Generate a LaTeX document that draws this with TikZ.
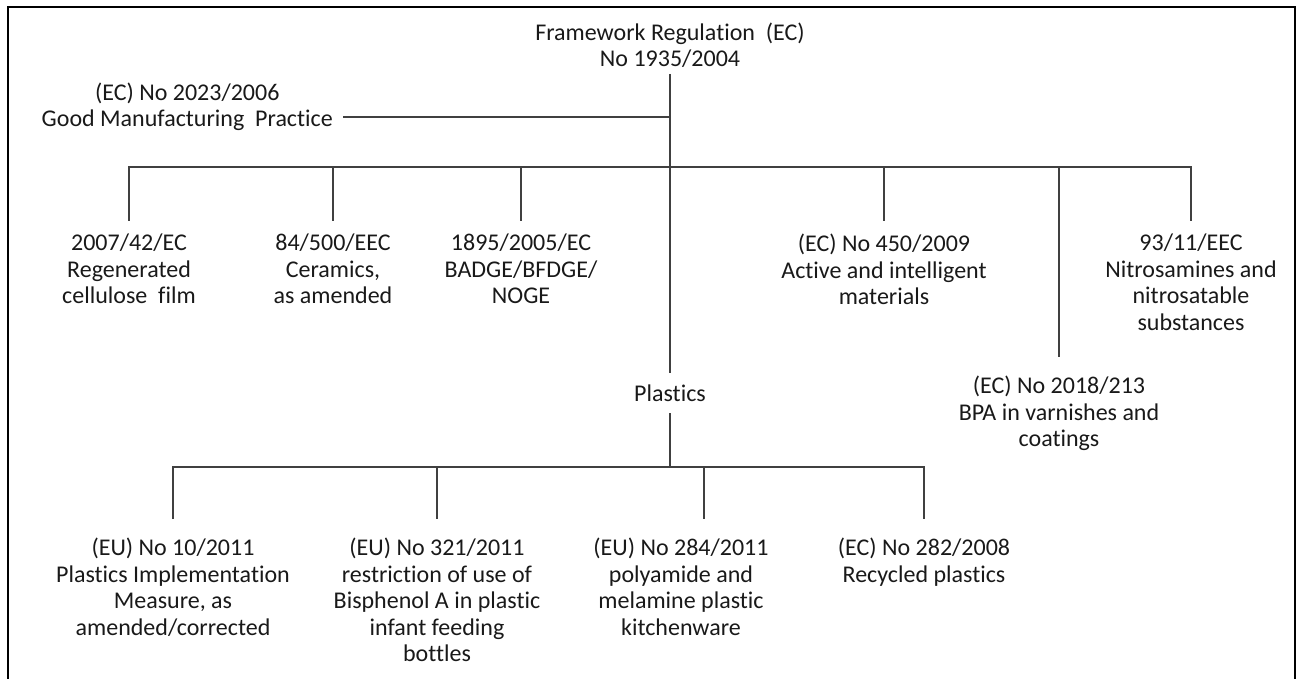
\documentclass[tikz,border=0pt]{standalone}
\usepackage{fontspec}
\setmainfont{Carlito}[Ligatures=NoCommon]
\usepackage{tikz}
\usetikzlibrary{positioning}
\newcommand{\regfont}{\fontsize{24}{26.5}\selectfont}
\tikzstyle{reg} = [align=center, font=\regfont, text=black!90, inner xsep=2pt, inner ysep=13pt]
\tikzstyle{lowreg} = [reg, inner ysep=19pt]
\tikzstyle{branch} = [draw=black!75, line width=1.7pt]
\tikzstyle{frame} = [draw=black, line width=2.6pt]

\begin{document}
\begin{tikzpicture}[x=1pt, y=-1pt]
\useasboundingbox (0,0) rectangle (1302,679);
\draw[frame] (8,679) -- (8,7) -- (1295,7) -- (1295,679);

\node[reg, anchor=south, inner ysep=6pt] (root) at (670,74) {Framework Regulation\ \ (EC)\\No 1935/2004};
\node[reg, anchor=east, inner xsep=10pt, inner ysep=4pt] (gmp) at (343,107) {(EC) No 2023/2006\\Good Manufacturing\ \ Practice};
\coordinate (bar1) at (670,167);

\node[reg, anchor=north] (cellulose) at (129,221) {2007/42/EC\\Regenerated\\cellulose\ \ film};
\node[reg, anchor=north] (ceramics) at (333,221) {84/500/EEC\\Ceramics,\\as amended};
\node[reg, anchor=north] (badge) at (521,221) {1895/2005/EC\\BADGE/BFDGE/\\NOGE};
\node[reg, anchor=north] (active) at (884,221) {(EC) No 450/2009\\Active and intelligent\\materials};
\node[lowreg, anchor=north] (bpa) at (1059,357) {(EC) No 2018/213\\BPA in varnishes and\\coatings};
\node[reg, anchor=north] (nitro) at (1191,221) {93/11/EEC\\Nitrosamines and\\nitrosatable\\substances};

\node[reg, inner ysep=11.5pt] (plastics) at (670,393) {Plastics};
\coordinate (bar2) at (670,467);

\node[lowreg, anchor=north] (impl) at (173,519) {(EU) No 10/2011\\Plastics Implementation\\Measure,\ as\\amended/corrected};
\node[lowreg, anchor=north] (bisphenol) at (437,519) {(EU) No 321/2011\\restriction of use of\\Bisphenol A in plastic\\infant feeding\\bottles};
\node[lowreg, anchor=north] (kitchen) at (681,519) {(EU) No 284/2011\\polyamide and\\melamine plastic\\kitchenware};
\node[lowreg, anchor=north] (recycled) at (924,519) {(EC) No 282/2008\\Recycled plastics};

\draw[branch] (root) -- (plastics);
\draw[branch] ([yshift=-10pt]gmp.east) -- ([yshift=-10pt]gmp.east -| root);
\draw[branch] (cellulose.north) -- (cellulose.north |- bar1) -- (nitro.north |- bar1) -- (nitro.north);
\foreach \n in {ceramics, badge, active, bpa}
  \draw[branch] (\n.north |- bar1) -- (\n.north);

\draw[branch] (plastics) -- (bar2);
\draw[branch] (impl.north) -- (impl.north |- bar2) -- (recycled.north |- bar2) -- (recycled.north);
\draw[branch] (bisphenol.north |- bar2) -- (bisphenol.north);
\draw[branch] ([xshift=23pt]kitchen.north |- bar2) -- ([xshift=23pt]kitchen.north);
\end{tikzpicture}
\end{document}
